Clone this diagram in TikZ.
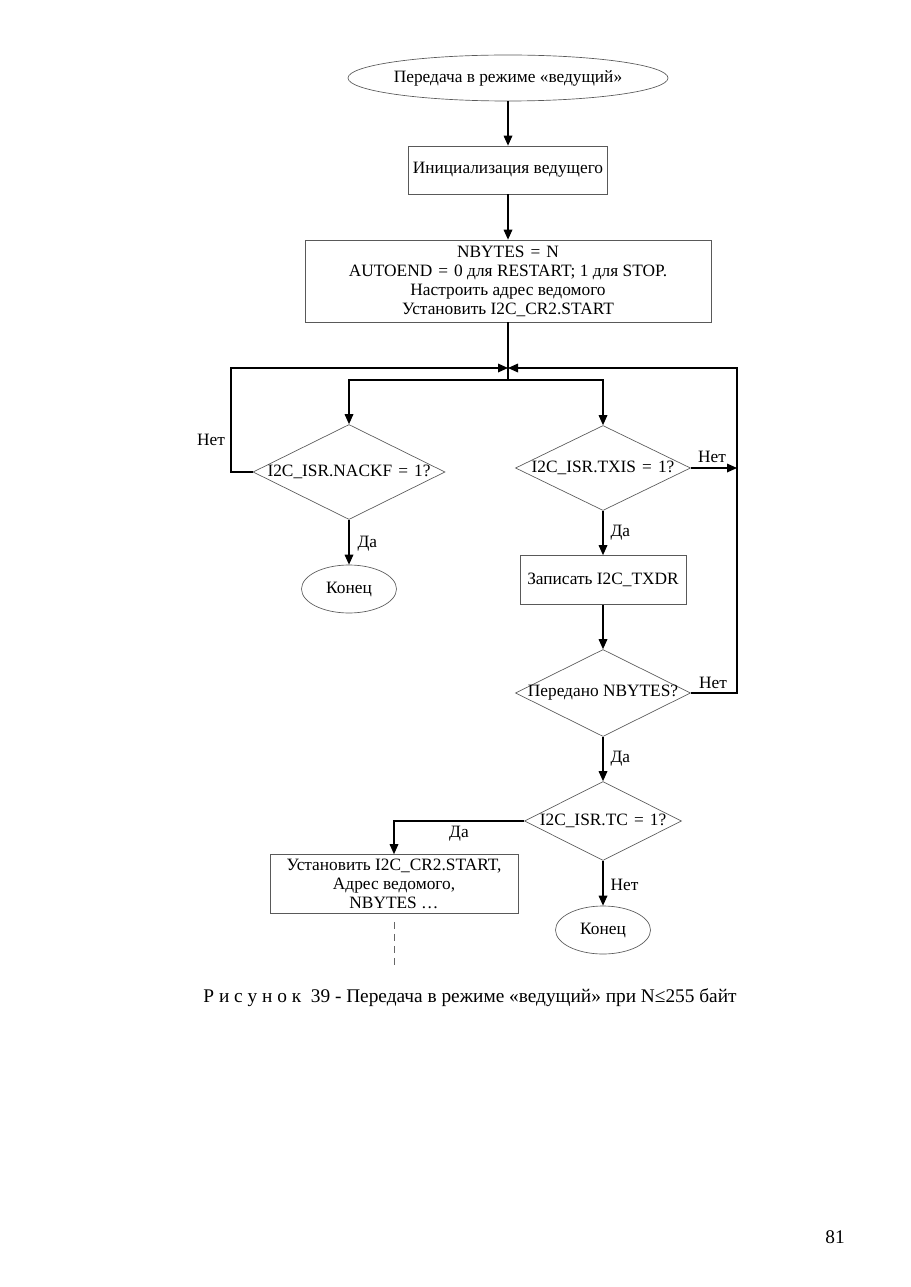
\documentclass[tikz,border=0pt]{standalone}
\usepackage{fontspec}
\setmainfont{Liberation Serif}
\usetikzlibrary{shapes.geometric,arrows.meta}
\newcommand{\eqs}{\hspace{0.35em}=\hspace{0.35em}}
\begin{document}
\begin{tikzpicture}[x=0.75pt,y=-0.75pt,
  every node/.style={font=\fontsize{13}{14.3}\selectfont},
  shp/.style={draw=black!65,line width=0.5pt,inner sep=2pt},
  box/.style={shp,rectangle,align=center},
  oval/.style={shp,ellipse,inner sep=0pt},
  dia/.style={shp,diamond,inner sep=0pt},
  conn/.style={line width=0.9pt},
  arr/.style={conn,-{Triangle[length=7.5pt,width=6.5pt]}},
  lbl/.style={inner sep=1pt}]
\useasboundingbox (0,0) rectangle (910,1287);
\node[oval,minimum width=240pt,minimum height=34.5pt] (start) at (508,78) {\makebox[0pt]{Передача в режиме «ведущий»}};
\node[box,minimum width=149.25pt,minimum height=36pt] (init) at (508,170) {\makebox[0pt]{Инициализация ведущего}};
\node[box,minimum width=304.5pt,minimum height=61.5pt] (cfg) at (508,281) {NBYTES\eqs N\\AUTOEND\eqs 0 для RESTART; 1 для STOP.\\Настроить адрес ведомого\\Установить I2C\_CR2.START};
\coordinate (join) at (508,368);
\coordinate (split) at (508,380);
\node[dia,minimum width=144pt,minimum height=71.25pt] (nack) at (349,472) {\makebox[0pt]{I2C\_ISR.NACKF\eqs 1?}};
\node[oval,minimum width=71.25pt,minimum height=36pt] (end1) at (349,589) {\makebox[0pt]{Конец}};
\node[dia,minimum width=131.25pt,minimum height=63.75pt] (txis) at (603,468) {\makebox[0pt]{I2C\_ISR.TXIS\eqs 1?}};
\node[box,minimum width=124.5pt,minimum height=36.75pt] (wr) at (603,580) {Записать I2C\_TXDR};
\node[dia,minimum width=131.25pt,minimum height=65.25pt] (nb) at (603,693) {\makebox[0pt]{Передано NBYTES?}};
\node[dia,minimum width=117.75pt,minimum height=59.25pt] (tc) at (603,821) {\makebox[0pt]{I2C\_ISR.TC\eqs 1?}};
\node[box,minimum width=186pt,minimum height=44.25pt] (rs) at (394,884) {Установить I2C\_CR2.START,\\Адрес ведомого,\\NBYTES \dots};
\node[oval,minimum width=71.25pt,minimum height=36pt] (end2) at (603,930) {\makebox[0pt]{Конец}};
\coordinate (rtop) at (737,368);
\coordinate (rtx) at (737,468);
\coordinate (lleft) at (231,472);
\coordinate (dashend) at (394,968);

\draw[arr] (start) -- (init);
\draw[arr] (init) -- (cfg);
\draw[conn] (cfg.south) -- (split);
\draw[arr] (split) -| (nack.north);
\draw[arr] (split) -| (txis.north);
\draw[arr] (nack.west) -- (lleft) |- (join);
\draw[arr] (nack.south) -- (end1.north);
\draw[arr] (txis.east) -- (rtx);
\draw[arr] (txis.south) -- (wr.north);
\draw[arr] (wr.south) -- (nb.north);
\draw[arr] (nb.east) -| (rtop) -- (join);
\draw[arr] (nb.south) -- (tc.north);
\draw[arr] (tc.west) -| (rs.north);
\draw[arr] (tc.south) -- (end2.north);
\draw[black!60,line width=0.5pt,dash pattern=on 5pt off 4pt] (rs.south) ++(0,8) -- (dashend);

\node[lbl] (l1) at (211,440) {Нет};
\node[lbl,anchor=west] (l2) at (356,544) {Да};
\node[lbl] (l3) at (712,457) {Нет};
\node[lbl,anchor=west] (l4) at (609,533) {Да};
\node[lbl] (l5) at (713,683) {Нет};
\node[lbl,anchor=west] (l6) at (609,759) {Да};
\node[lbl] (l7) at (459,834) {Да};
\node[lbl,anchor=west] (l8) at (609,885) {Нет};

\node[font=\fontsize{14.5}{16}\selectfont,inner sep=0pt] (cap) at (470,998) {Р и с у н о к\ \ 39 - Передача в режиме «ведущий» при N≤255 байт};
\node[font=\fontsize{14.5}{16}\selectfont,inner sep=0pt] (pg) at (835,1237) {81};
\end{tikzpicture}
\end{document}
